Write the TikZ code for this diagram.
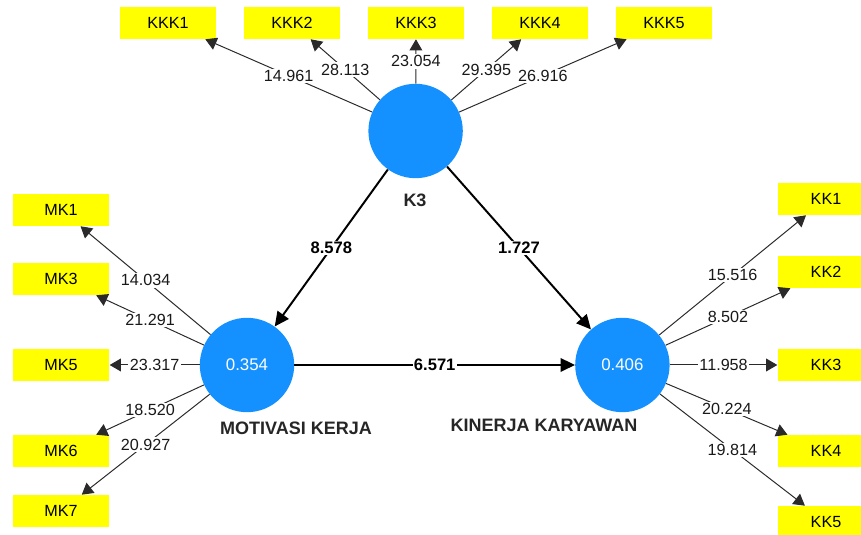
\documentclass[tikz,border=0pt]{standalone}
\usepackage{fontspec}
\setmainfont{Liberation Sans}
\usepackage{xcolor}
\usepackage{tikz}
\usetikzlibrary{arrows.meta,positioning,calc}
\definecolor{lvBlue}{HTML}{1491FE}
\definecolor{indYellow}{HTML}{FFFF00}
\definecolor{loadGray}{HTML}{2A2A2A}

\begin{document}
\begin{tikzpicture}[font=\fontsize{11.5}{13}\selectfont,
  lv/.style={circle,fill=lvBlue,minimum size=2.36cm,inner sep=0pt,text=white,font=\fontsize{12}{14}\selectfont},
  ind/.style={rectangle,fill=indYellow,minimum width=2.42cm,minimum height=0.8cm,inner sep=0pt},
  load/.style={loadGray,line width=0.7pt,-{Triangle[length=0.28cm,width=0.32cm]}},
  path/.style={black,line width=1.4pt,-{Triangle[length=0.36cm,width=0.34cm]}},
  val/.style={midway,fill=white,inner sep=1pt,text=black!90},
  coef/.style={midway,fill=white,inner sep=1pt,font=\fontsize{11.8}{13}\selectfont\bfseries},
  lvname/.style={font=\fontsize{12.8}{14}\selectfont\bfseries,text=black!85}]
  \useasboundingbox (0,0) rectangle (21.525,13.375);
  \clip (0,0) rectangle (21.525,13.375);
% --- latent variables ---
  \node[lv] (k3) at (10.39,10.1) {};
  \node[lv] (mk) at (6.175,4.25) {0.354};
  \node[lv] (kk) at (15.56,4.25) {0.406};
  \node[lvname] (k3name) at (10.375,8.375) {K3};
  \node[lvname] (mkname) at (7.4,2.675) {MOTIVASI KERJA};
  \node[lvname] (kkname) at (13.6,2.75) {KINERJA KARYAWAN};
% --- indicators of K3 ---
  \node[ind] (kkk1) at (4.2,12.8) {KKK1};
  \node[ind] (kkk2) at (7.3,12.8) {KKK2};
  \node[ind] (kkk3) at (10.4,12.8) {KKK3};
  \node[ind] (kkk4) at (13.5,12.8) {KKK4};
  \node[ind] (kkk5) at (16.6,12.8) {KKK5};
% --- indicators of MOTIVASI KERJA ---
  \node[ind] (mk1) at (1.525,8.125) {MK1};
  \node[ind] (mk3) at (1.525,6.4) {MK3};
  \node[ind] (mk5) at (1.525,4.25) {MK5};
  \node[ind] (mk6) at (1.525,2.1) {MK6};
  \node[ind] (mk7) at (1.525,0.6) {MK7};
% --- indicators of KINERJA KARYAWAN ---
  \node[ind] (kk1) at (20.65,8.4) {KK1};
  \node[ind] (kk2) at (20.65,6.575) {KK2};
  \node[ind] (kk3) at (20.65,4.25) {KK3};
  \node[ind] (kk4) at (20.65,2.1) {KK4};
  \node[ind] (kk5) at (20.65,0.325) {KK5};
% --- outer loadings ---
  \draw[load] (k3)--(kkk1) node[val] {14.961};
  \draw[load] (k3)--(kkk2) node[val] {28.113};
  \draw[load] (k3)--(kkk3) node[val] {23.054};
  \draw[load] (k3)--(kkk4) node[val] {29.395};
  \draw[load] (k3)--(kkk5) node[val] {26.916};
  \draw[load] (mk)--(mk1) node[val] {14.034};
  \draw[load] (mk)--(mk3) node[val] {21.291};
  \draw[load] (mk)--(mk5) node[val] {23.317};
  \draw[load] (mk)--(mk6) node[val] {18.520};
  \draw[load] (mk)--(mk7) node[val] {20.927};
  \draw[load] (kk)--(kk1) node[val] {15.516};
  \draw[load] (kk)--(kk2) node[val] {8.502};
  \draw[load] (kk)--(kk3) node[val] {11.958};
  \draw[load] (kk)--(kk4) node[val] {20.224};
  \draw[load] (kk)--(kk5) node[val] {19.814};
% --- inner model ---
  \draw[path] (k3)--(mk) node[coef] {8.578};
  \draw[path] (k3)--(kk) node[coef] {1.727};
  \draw[path] (mk)--(kk) node[coef] {6.571};
\end{tikzpicture}
\end{document}
